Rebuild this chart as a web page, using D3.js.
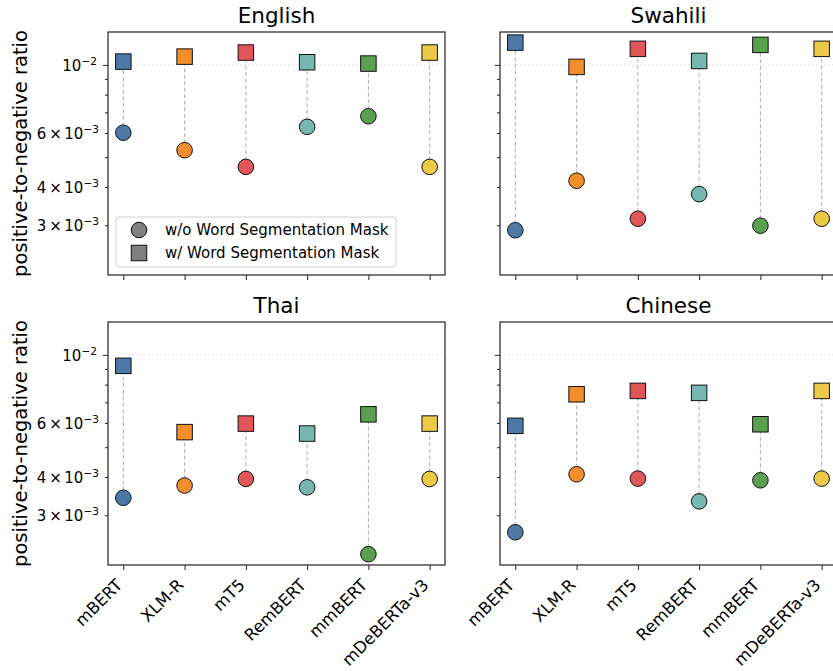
<!DOCTYPE html>
<html>
<head>
<meta charset="utf-8">
<script src="https://cdn.jsdelivr.net/npm/d3@7"></script>
<style>
  body { margin: 0; background: #fff; }
  text { font-family: "DejaVu Sans", sans-serif; fill: #000; }
</style>
</head>
<body>
<div id="wrapper"></div>
<script>
const models = ["mBERT", "XLM-R", "mT5", "RemBERT", "mmBERT", "mDeBERTa-v3"];
const modelColors = ["#4e79a7", "#f28e2b", "#e15759", "#76b7b2", "#59a14f", "#edc948"];
const languages = ["English", "Swahili", "Thai", "Chinese"];

// w/o word segmentation mask (circles)
const englishNoMask = [0.00601, 0.00527, 0.00465, 0.00628, 0.00680, 0.00465];
const swahiliNoMask = [0.00289, 0.00419, 0.00315, 0.00379, 0.00299, 0.00315];
const thaiNoMask = [0.00342, 0.00375, 0.00394, 0.00370, 0.00224, 0.00394];
const chineseNoMask = [0.00264, 0.00408, 0.00395, 0.00333, 0.00390, 0.00395];

// w/ word segmentation mask (squares)
const englishMask = [0.01025, 0.01064, 0.01097, 0.01020, 0.01010, 0.01097];
const swahiliMask = [0.01182, 0.00985, 0.01128, 0.01030, 0.01162, 0.01128];
const thaiMask = [0.00921, 0.00560, 0.00597, 0.00554, 0.00640, 0.00597];
const chineseMask = [0.00587, 0.00744, 0.00763, 0.00752, 0.00594, 0.00763];

const yDomain = [0.002065, 0.0128];
const yMajorTicks = [0.01];
const yLabelTicks = [0.003, 0.004, 0.006];
const yMinorTicks = [0.003, 0.004, 0.005, 0.006, 0.007, 0.008, 0.009];
const yTickMantissa = { 0.003: "3", 0.004: "4", 0.006: "6" };

const noMaskByLang = { English: englishNoMask, Swahili: swahiliNoMask, Thai: thaiNoMask, Chinese: chineseNoMask };
const maskByLang = { English: englishMask, Swahili: swahiliMask, Thai: thaiMask, Chinese: chineseMask };

function drawChart() {
    const dimensions = { width: 833, height: 671, panelWidth: 337, panelHeight: 243 };
    const panels = [
        { lang: "English", left: 108, top: 32, showY: true, showX: false },
        { lang: "Swahili", left: 500, top: 32, showY: false, showX: false },
        { lang: "Thai", left: 108, top: 322, showY: true, showX: true },
        { lang: "Chinese", left: 500, top: 322, showY: false, showX: true },
    ];

    const svg = d3.select("#wrapper").append("svg")
        .attr("width", dimensions.width)
        .attr("height", dimensions.height);

    const xScale = d3.scaleLinear()
        .domain([-0.25, models.length - 0.75])
        .range([0, dimensions.panelWidth]);

    const yScale = d3.scaleLog()
        .domain(yDomain)
        .range([dimensions.panelHeight, 0]);

    panels.forEach(p => {
        const g = svg.append("g").attr("transform", `translate(${p.left},${p.top})`);

        // title
        g.append("text")
            .attr("x", dimensions.panelWidth / 2)
            .attr("y", -9)
            .attr("text-anchor", "middle")
            .style("font-size", "21.5px")
            .text(p.lang);

        // grid at major tick
        g.selectAll(".grid").data(yMajorTicks).join("line")
            .attr("x1", 0).attr("x2", dimensions.panelWidth)
            .attr("y1", d => yScale(d)).attr("y2", d => yScale(d))
            .attr("stroke", "#dcdcdc").attr("stroke-width", 0.8)
            .attr("stroke-dasharray", "2,2");

        // y axis (major + minor ticks)
        const yMajor = g.append("g")
            .call(d3.axisLeft(yScale).tickValues(yMajorTicks).tickSize(5).tickFormat(""));
        const yMinor = g.append("g")
            .call(d3.axisLeft(yScale).tickValues(yMinorTicks).tickSize(3).tickFormat(""));
        [yMajor, yMinor].forEach(a => {
            a.select(".domain").remove();
            a.selectAll("line").attr("stroke", "#222").attr("stroke-width", 1);
        });

        if (p.showY) {
            const labelX = -9;
            yMajorTicks.forEach(v => {
                const t = g.append("text")
                    .attr("x", labelX - 2).attr("y", yScale(v) + 6)
                    .attr("text-anchor", "end")
                    .style("font-size", "15px");
                t.append("tspan").text("10");
                t.append("tspan").attr("dy", -6).style("font-size", "10.6px").text("\u22122");
            });
            yLabelTicks.forEach(v => {
                const t = g.append("text")
                    .attr("x", labelX).attr("y", yScale(v) + 6)
                    .attr("text-anchor", "end")
                    .style("font-size", "15px");
                t.append("tspan").text(yTickMantissa[v]);
                t.append("tspan").attr("dx", 3).text("\u00d7");
                t.append("tspan").attr("dx", 2.5).text("10");
                t.append("tspan").attr("dy", -6).style("font-size", "10.6px").text("\u22123");
            });
            g.append("text")
                .attr("transform", `translate(${27 - p.left},${dimensions.panelHeight / 2}) rotate(-90)`)
                .attr("text-anchor", "middle")
                .style("font-size", "19.5px")
                .text("positive-to-negative ratio");
        }

        // x axis
        const xAxis = g.append("g")
            .attr("transform", `translate(0,${dimensions.panelHeight})`)
            .call(d3.axisBottom(xScale).tickValues(d3.range(models.length)).tickSize(5).tickFormat(""));
        xAxis.select(".domain").remove();
        xAxis.selectAll("line").attr("stroke", "#222").attr("stroke-width", 1);

        if (p.showX) {
            g.selectAll(".xlabel").data(models).join("text")
                .attr("transform", (d, i) => `translate(${xScale(i)},${dimensions.panelHeight + 21}) rotate(-45)`)
                .attr("text-anchor", "end")
                .style("font-size", "16.5px")
                .text(d => d);
        }

        const noMask = noMaskByLang[p.lang];
        const mask = maskByLang[p.lang];

        // dashed connectors
        g.selectAll(".conn").data(models).join("line")
            .attr("x1", (d, i) => xScale(i)).attr("x2", (d, i) => xScale(i))
            .attr("y1", (d, i) => yScale(noMask[i])).attr("y2", (d, i) => yScale(mask[i]))
            .attr("stroke", "#b4b4b4").attr("stroke-width", 1.1)
            .attr("stroke-dasharray", "4,2.5");

        // circles (w/o mask)
        g.selectAll(".circ").data(models).join("circle")
            .attr("cx", (d, i) => xScale(i))
            .attr("cy", (d, i) => yScale(noMask[i]))
            .attr("r", 7.8)
            .attr("fill", (d, i) => modelColors[i])
            .attr("stroke", "#111").attr("stroke-width", 1);

        // squares (w/ mask)
        const s = 15.5;
        g.selectAll(".sq").data(models).join("rect")
            .attr("x", (d, i) => xScale(i) - s / 2)
            .attr("y", (d, i) => yScale(mask[i]) - s / 2)
            .attr("width", s).attr("height", s)
            .attr("fill", (d, i) => modelColors[i])
            .attr("stroke", "#111").attr("stroke-width", 1);

        // frame
        g.append("rect")
            .attr("width", dimensions.panelWidth).attr("height", dimensions.panelHeight)
            .attr("fill", "none").attr("stroke", "#222").attr("stroke-width", 1.2);

        // legend
        if (p.lang === "English") {
            const lg = g.append("g").attr("transform", "translate(8,185)");
            lg.append("rect")
                .attr("width", 280).attr("height", 50).attr("rx", 3)
                .attr("fill", "#fff").attr("fill-opacity", 0.8)
                .attr("stroke", "#d0d0d0").attr("stroke-width", 1);
            lg.append("circle").attr("cx", 23).attr("cy", 13).attr("r", 7.8)
                .attr("fill", "#808080").attr("stroke", "#111");
            lg.append("rect").attr("x", 23 - s / 2).attr("y", 36 - s / 2).attr("width", s).attr("height", s)
                .attr("fill", "#808080").attr("stroke", "#111");
            lg.append("text").attr("x", 49).attr("y", 18).style("font-size", "15px").text("w/o Word Segmentation Mask");
            lg.append("text").attr("x", 49).attr("y", 41).style("font-size", "15px").text("w/ Word Segmentation Mask");
        }
    });
}

drawChart();
</script>
</body>
</html>
